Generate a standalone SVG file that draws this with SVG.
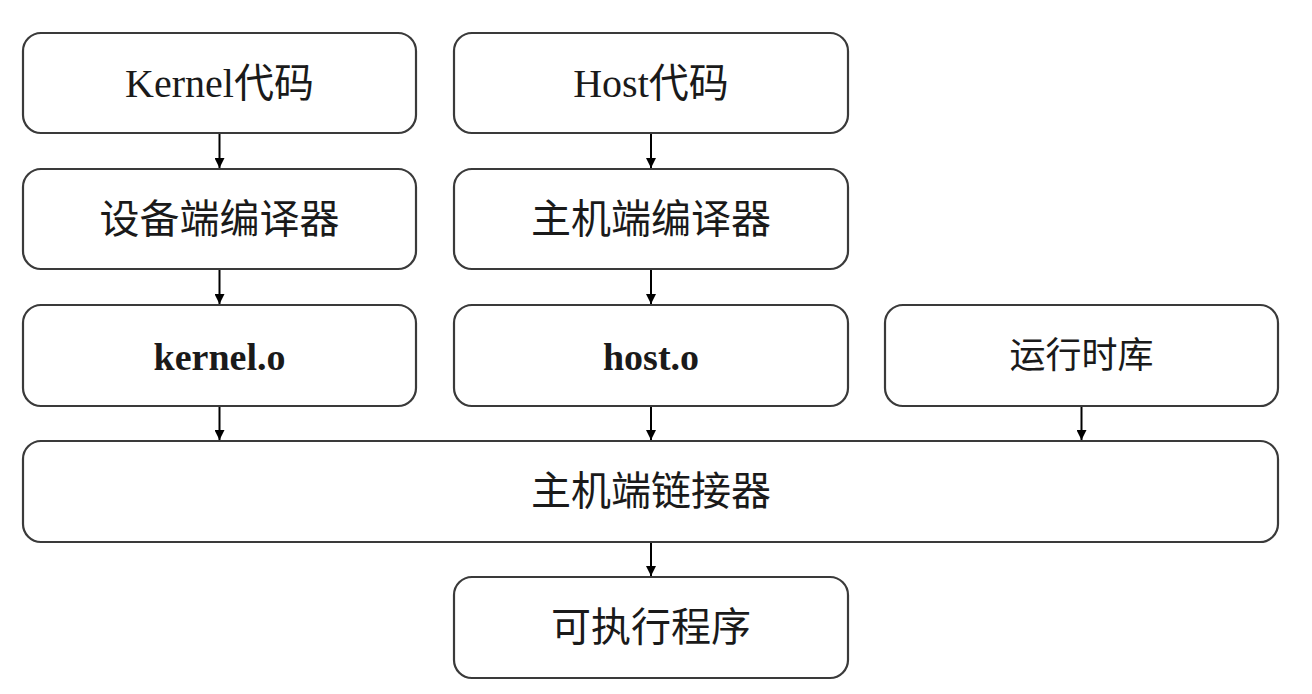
<svg xmlns="http://www.w3.org/2000/svg" width="1312" height="694" viewBox="0 0 1312 694">
<style>
.box{fill:#fff;stroke:#3a3a3a;stroke-width:2.2}
.t{font-family:"Liberation Serif","Noto Sans CJK SC",serif;font-size:40px;fill:#1a1a1a;text-anchor:middle}
.b{font-weight:bold;font-size:38px}
.c{stroke:#000;stroke-width:2;fill:none;marker-end:url(#ah)}
</style>
<defs>
<marker id="ah" viewBox="0 0 10 10" refX="10" refY="5" markerWidth="10" markerHeight="10" markerUnits="userSpaceOnUse" orient="auto">
<path d="M0,0 L10,5 L0,10 z" fill="#000"/>
</marker>
</defs>
<rect width="1312" height="694" fill="#fff"/>
<g id="kernel-code"><rect class="box" x="23" y="33" width="393" height="100" rx="18"/><text class="t" x="219.5" y="97">Kernel代码</text></g>
<g id="host-code"><rect class="box" x="454" y="33" width="394" height="100" rx="18"/><text class="t" x="651" y="97">Host代码</text></g>
<g id="device-compiler"><rect class="box" x="23" y="169" width="393" height="100" rx="18"/><text class="t" x="219.5" y="233">设备端编译器</text></g>
<g id="host-compiler"><rect class="box" x="454" y="169" width="394" height="100" rx="18"/><text class="t" x="651" y="233">主机端编译器</text></g>
<g id="kernel-o"><rect class="box" x="23" y="305" width="393" height="101" rx="18"/><text class="t b" x="219.5" y="370">kernel.o</text></g>
<g id="host-o"><rect class="box" x="454" y="305" width="394" height="101" rx="18"/><text class="t b" x="651" y="370">host.o</text></g>
<g id="runtime"><rect class="box" x="885" y="305" width="393" height="101" rx="18"/><text class="t" x="1081.5" y="368" style="font-size:36px">运行时库</text></g>
<g id="linker"><rect class="box" x="23" y="441" width="1255" height="101" rx="18"/><text class="t" x="651" y="505">主机端链接器</text></g>
<g id="executable"><rect class="box" x="454" y="577" width="394" height="101" rx="18"/><text class="t" x="651" y="641">可执行程序</text></g>
<g id="connectors">
<line class="c" x1="219.5" y1="134" x2="219.5" y2="168"/>
<line class="c" x1="651" y1="134" x2="651" y2="168"/>
<line class="c" x1="219.5" y1="270" x2="219.5" y2="304"/>
<line class="c" x1="651" y1="270" x2="651" y2="304"/>
<line class="c" x1="219.5" y1="407" x2="219.5" y2="440"/>
<line class="c" x1="651" y1="407" x2="651" y2="440"/>
<line class="c" x1="1081.5" y1="407" x2="1081.5" y2="440"/>
<line class="c" x1="651" y1="543" x2="651" y2="576"/>
</g>
</svg>
